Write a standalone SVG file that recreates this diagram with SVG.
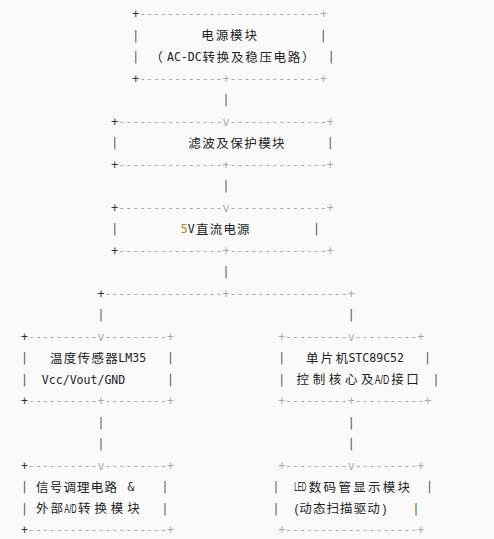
<svg xmlns="http://www.w3.org/2000/svg" width="494" height="539" viewBox="0 0 494 539">
<style>
.m{font-family:"DejaVu Sans Mono","Liberation Mono",monospace;font-size:11.55px;}
.k{fill:#333;}
.g{fill:#aaa;}
.b{fill:#555;}
.t{fill:#222;}
.c{font-family:"Noto Sans CJK SC","Noto Sans CJK JP",sans-serif;font-size:12.5px;fill:#222;}
.n{font-family:"Liberation Sans","Noto Sans",sans-serif;font-size:12px;fill:#222;}
.w{font-family:"Liberation Sans","Noto Sans",sans-serif;font-size:12.5px;fill:#222;}
.o{fill:#b08800;}
</style>
<rect width="494" height="539" fill="#fafafa"/>
<g id="connectors">
<text class="m b" x="222.55" y="104">|</text>
<text class="m b" x="222.55" y="190">|</text>
<text class="m b" x="222.55" y="276">|</text>
<text class="m k" x="97.45" y="297.5">+</text>
<text class="m g" x="104.4" y="297.5">-----------------+-----------------+</text>
<text class="m b" x="97.45" y="319">|</text>
<text class="m b" x="347.65" y="319">|</text>
<text class="m b" x="97.45" y="426.5">|</text>
<text class="m b" x="347.65" y="426.5">|</text>
<text class="m b" x="97.45" y="448">|</text>
<text class="m b" x="347.65" y="448">|</text>
</g>
<g id="power">
<text class="m k" x="132.2" y="18">+</text>
<text class="m g" x="139.15" y="18">--------------------------+</text>
<text class="m b" x="132.2" y="39.5">|</text>
<text class="c" x="201.3 215.7 230.1 244.5" y="40">电源模块</text>
<text class="m b" x="319.85" y="39.5">|</text>
<text class="m b" x="132.2" y="61">|</text>
<text class="c" x="150.3" y="61.5">（</text>
<text class="m t" x="166.95" y="61">AC-DC</text>
<text class="c" x="202.6 216.8 231 245.2 259.4 273.6 287.8" y="61.5">转换及稳压电路</text>
<text class="c" x="302" y="61.5">）</text>
<text class="m b" x="327.8" y="61">|</text>
<text class="m k" x="132.2" y="82.5">+</text>
<text class="m g" x="139.15" y="82.5">------------+-------------+</text>
</g>
<g id="filter">
<text class="m k" x="111.35" y="125.5">+</text>
<text class="m g" x="118.3" y="125.5">---------------v--------------+</text>
<text class="m b" x="111.35" y="147">|</text>
<text class="c" x="188.3 202.27 216.24 230.21 244.18 258.15 272.12" y="147.5">滤波及保护模块</text>
<text class="m b" x="326.8" y="147">|</text>
<text class="m k" x="111.35" y="168.5">+</text>
<text class="m g" x="118.3" y="168.5">---------------+--------------+</text>
</g>
<g id="dc5v">
<text class="m k" x="111.35" y="211.5">+</text>
<text class="m g" x="118.3" y="211.5">---------------v--------------+</text>
<text class="m b" x="111.35" y="233">|</text>
<text class="m o" x="180.85" y="233">5</text>
<text class="m t" x="187.8" y="233">V</text>
<text class="c" x="196 209.7 223.4 237.1" y="233.5">直流电源</text>
<text class="m b" x="312.9" y="233">|</text>
<text class="m k" x="111.35" y="254.5">+</text>
<text class="m g" x="118.3" y="254.5">---------------+--------------+</text>
</g>
<g id="sensor">
<text class="m k" x="21" y="340.5">+</text>
<text class="m g" x="27.95" y="340.5">----------v---------+</text>
<text class="m b" x="21" y="362">|</text>
<text class="c" x="50 63.8 77.6 91.4 105.2" y="362.5">温度传感器</text>
<text class="m t" x="118.3" y="362">LM35</text>
<text class="m b" x="166.95" y="362">|</text>
<text class="m b" x="21" y="383.5">|</text>
<text class="m t" x="41.85" y="383.5">Vcc/Vout/GND</text>
<text class="m b" x="166.95" y="383.5">|</text>
<text class="m k" x="21" y="405">+</text>
<text class="m g" x="27.95" y="405">----------+---------+</text>
</g>
<g id="mcu">
<text class="m g" x="278.15" y="340.5">+---------v---------+</text>
<text class="m b" x="278.15" y="362">|</text>
<text class="c" x="306 320.75 335.5" y="362.5">单片机</text>
<text class="m t" x="348.4" y="362">STC89C52</text>
<text class="m b" x="424.1" y="362">|</text>
<text class="m b" x="278.15" y="383.5">|</text>
<text class="c" x="296.6 312.7 328.8 344.9 361" y="384">控制核心及</text>
<text class="w" transform="translate(374.8 383.5) scale(0.7 1)">A/D</text>
<text class="c" x="391.2 406.2" y="384">接口</text>
<text class="m b" x="432.5" y="383.5">|</text>
<text class="m g" x="278.15" y="405">+---------+----------+</text>
</g>
<g id="signal">
<text class="m k" x="21" y="469.5">+</text>
<text class="m g" x="27.95" y="469.5">----------v---------+</text>
<text class="m b" x="21" y="491">|</text>
<text class="c" x="36 49.7 63.4 77.1 90.8 104.5" y="491.5">信号调理电路</text>
<text class="m t" x="127.5" y="491">&amp;</text>
<text class="m b" x="161.5" y="491">|</text>
<text class="m b" x="21" y="512.5">|</text>
<text class="c" x="36 50.6" y="513">外部</text>
<text class="w" transform="translate(64.2 512.5) scale(0.6 1)">A/D</text>
<text class="c" x="78 94.4 110.8 127.2" y="513">转换模块</text>
<text class="m b" x="161.5" y="512.5">|</text>
<text class="m k" x="21" y="534">+</text>
<text class="m g" x="27.95" y="534">--------------------+</text>
</g>
<g id="led">
<text class="m g" x="278.15" y="469.5">+---------v---------+</text>
<text class="m b" x="272.5" y="491">|</text>
<text class="w" transform="translate(294.2 491) scale(0.5 1)">LED</text>
<text class="c" x="308.8 323.6 338.4 353.2 368 382.8 397.6" y="491.5">数码管显示模块</text>
<text class="m b" x="426" y="491">|</text>
<text class="m b" x="272.5" y="512.5">|</text>
<text class="n" x="294.5" y="512.5">(</text>
<text class="c" x="299.3 312.9 326.5 340.1 353.7 367.3" y="513">动态扫描驱动</text>
<text class="n" x="382.5" y="512.5">)</text>
<text class="m b" x="412.5" y="512.5">|</text>
<text class="m g" x="278.15" y="534">+-------------------+</text>
</g>
</svg>
